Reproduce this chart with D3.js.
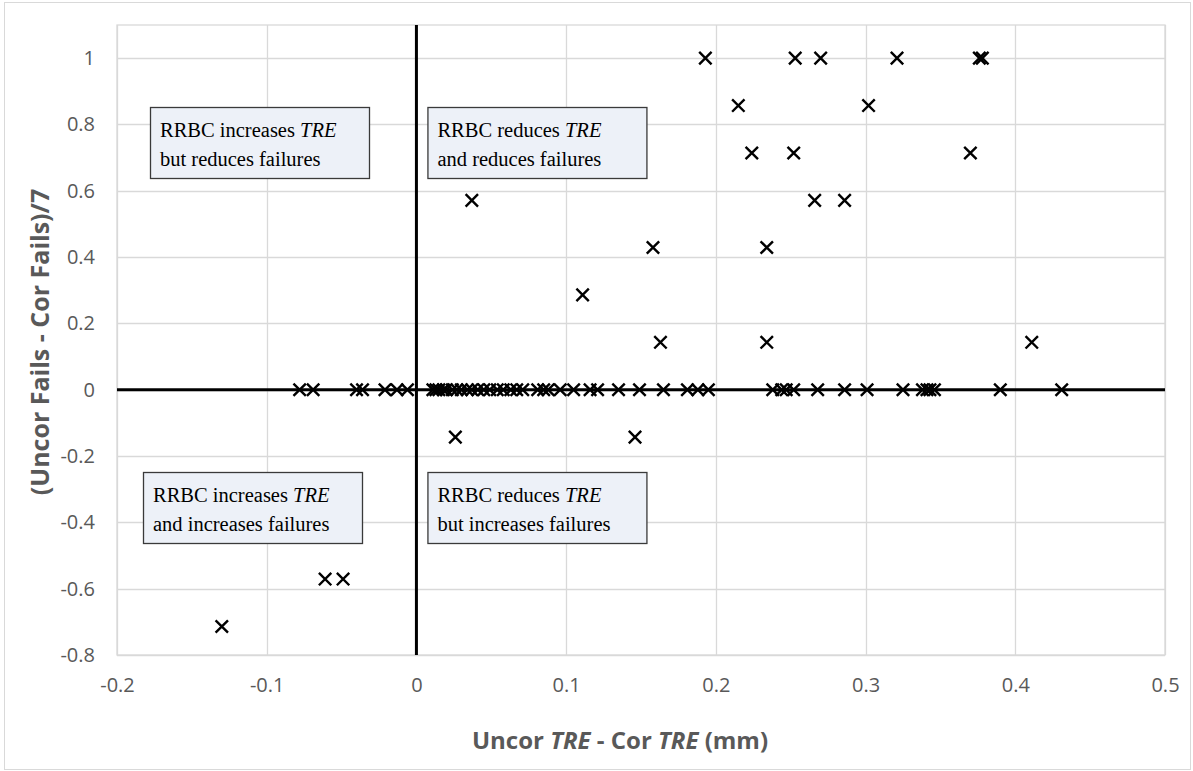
<!DOCTYPE html>
<html><head><meta charset="utf-8">
<script src="https://cdn.jsdelivr.net/npm/d3@7"></script>
<style>body{margin:0;background:#fff}</style>
</head><body>
<svg id="c" width="1193" height="771"></svg>
<script>
// Data
const xTicks = [-0.2,-0.1,0,0.1,0.2,0.3,0.4,0.5];
const yTicks = [-0.8,-0.6,-0.4,-0.2,0,0.2,0.4,0.6,0.8,1];
const pointX = [
  // y = 0 row
  -0.078,-0.069,-0.040,-0.036,-0.021,-0.013,-0.006,
  0.011,0.013,0.015,0.018,0.020,0.024,0.027,0.030,0.034,0.037,0.041,0.045,0.049,0.054,0.058,0.063,0.067,0.071,
  0.081,0.085,0.088,0.096,0.105,0.116,0.121,0.135,0.149,0.165,0.181,0.188,0.195,
  0.238,0.244,0.247,0.252,0.268,0.286,0.301,0.325,0.338,0.341,0.343,0.346,0.390,0.431,
  // y = 1
  0.193,0.253,0.270,0.321,0.376,0.378,
  // y = 6/7
  0.215,0.302,
  // y = 5/7
  0.224,0.252,0.370,
  // y = 4/7
  0.037,0.266,0.286,
  // y = 3/7
  0.158,0.234,
  // y = 2/7
  0.111,
  // y = 1/7
  0.163,0.234,0.411,
  // y = -1/7
  0.026,0.146,
  // y = -4/7
  -0.061,-0.049,
  // y = -5/7
  -0.130
];
const pointY = [
  0,0,0,0,0,0,0,
  0,0,0,0,0,0,0,0,0,0,0,0,0,0,0,0,0,0,
  0,0,0,0,0,0,0,0,0,0,0,0,0,
  0,0,0,0,0,0,0,0,0,0,0,0,0,0,
  1,1,1,1,1,1,
  0.857,0.857,
  0.714,0.714,0.714,
  0.571,0.571,0.571,
  0.429,0.429,
  0.286,
  0.143,0.143,0.143,
  -0.143,-0.143,
  -0.571,-0.571,
  -0.714
];
const boxLine1 = ["RRBC increases ", "RRBC reduces ", "RRBC increases ", "RRBC reduces "];
const boxLine2 = ["but reduces failures", "and reduces failures", "and increases failures", "but increases failures"];

const svg = d3.select("#c");
const L = 117, R = 1165, T = 25, B = 655;
const x = d3.scaleLinear().domain([-0.2, 0.5]).range([L, R]);
const y = d3.scaleLinear().domain([-0.8, 1.1]).range([B, T]);
const fmt = v => String(+v.toFixed(1));
const gray = "#595959", grid = "#d9d9d9";

// chart border
svg.append("rect").attr("x", 4.5).attr("y", 2.5).attr("width", 1186).attr("height", 767)
  .attr("fill", "#fff").attr("stroke", grid).attr("stroke-width", 1);

// gridlines
svg.append("g").selectAll("line").data(xTicks).join("line")
  .attr("x1", d => Math.round(x(d)) + 0.5).attr("x2", d => Math.round(x(d)) + 0.5)
  .attr("y1", T).attr("y2", B).attr("stroke", grid).attr("stroke-width", 1.3);
svg.append("g").selectAll("line").data(yTicks).join("line")
  .attr("y1", d => Math.round(y(d)) + 0.5).attr("y2", d => Math.round(y(d)) + 0.5)
  .attr("x1", L).attr("x2", R).attr("stroke", grid).attr("stroke-width", 1.3);
svg.append("rect").attr("x", L).attr("y", T).attr("width", R - L).attr("height", B - T)
  .attr("fill", "none").attr("stroke", grid).attr("stroke-width", 1.3);

// tick labels via axes
const xAxis = svg.append("g").attr("transform", `translate(0,${B})`)
  .call(d3.axisBottom(x).tickValues(xTicks).tickFormat(fmt).tickSize(0).tickPadding(23));
const yAxis = svg.append("g").attr("transform", `translate(${L},0)`)
  .call(d3.axisLeft(y).tickValues(yTicks).tickFormat(fmt).tickSize(0).tickPadding(22));
[xAxis, yAxis].forEach(a => {
  a.select(".domain").remove();
  a.selectAll("text").attr("fill", gray).style("font-family", "'Open Sans', sans-serif").style("font-size", "20px");
});

// black axes at zero
svg.append("line").attr("x1", L).attr("x2", R).attr("y1", y(0)).attr("y2", y(0))
  .attr("stroke", "#000").attr("stroke-width", 3);
svg.append("line").attr("x1", x(0)).attr("x2", x(0)).attr("y1", T).attr("y2", B)
  .attr("stroke", "#000").attr("stroke-width", 3);

// quadrant boxes
const boxW = 219, boxH = 71;
const bx = [x(-0.2) + 33, x(0) + 11, x(-0.2) + 26, x(0) + 11];
const by = [107, 107, 472, 472];
boxLine1.forEach((t, i) => {
  const g = svg.append("g");
  g.append("rect").attr("x", bx[i] + 0.5).attr("y", by[i] + 0.5).attr("width", boxW).attr("height", boxH)
    .attr("fill", "#edf1f8").attr("stroke", "#3a3a3a").attr("stroke-width", 1.3);
  const tx = g.append("text").attr("x", bx[i] + 10).attr("y", by[i] + 30)
    .style("font-family", "'Liberation Serif', 'Times New Roman', serif").style("font-size", "20.5px").attr("fill", "#000");
  tx.append("tspan").text(t);
  tx.append("tspan").style("font-style", "italic").text("TRE");
  g.append("text").attr("x", bx[i] + 10).attr("y", by[i] + 59)
    .style("font-family", "'Liberation Serif', 'Times New Roman', serif").style("font-size", "20.5px").attr("fill", "#000")
    .text(boxLine2[i]);
});

// markers
const s = 6.2;
const pts = pointX.map((v, i) => [v, pointY[i]]);
const mk = svg.append("g").attr("stroke", "#000").attr("stroke-width", 2.4).attr("fill", "none");
mk.selectAll("path").data(pts).join("path")
  .attr("d", d => {
    const cx = x(d[0]), cy = y(d[1]);
    return `M${cx - s},${cy - s}L${cx + s},${cy + s}M${cx - s},${cy + s}L${cx + s},${cy - s}`;
  });

// axis titles
const xt = svg.append("text").attr("x", 620).attr("y", 749).attr("text-anchor", "middle")
  .attr("fill", gray).style("font-family", "'Open Sans', sans-serif").style("font-size", "24px").style("font-weight", "bold");
xt.append("tspan").text("Uncor ");
xt.append("tspan").style("font-style", "italic").text("TRE");
xt.append("tspan").text(" - Cor ");
xt.append("tspan").style("font-style", "italic").text("TRE");
xt.append("tspan").text(" (mm)");

svg.append("text").attr("transform", "translate(49,342) rotate(-90)").attr("text-anchor", "middle")
  .attr("fill", gray).style("font-family", "'Open Sans', sans-serif").style("font-size", "25px").style("font-weight", "bold")
  .text("(Uncor Fails - Cor Fails)/7");
</script>
</body></html>
